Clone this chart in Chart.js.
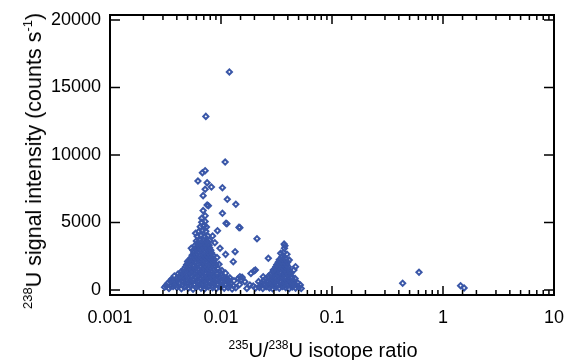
<!DOCTYPE html>
<html>
<head>
<meta charset="utf-8">
<script src="https://cdn.jsdelivr.net/npm/chart.js@4"></script>
<style>
  body { margin: 0; background: #fff; }
  #wrap { position: relative; width: 565px; height: 360px; font-family: "Liberation Sans", Arial, sans-serif; color: #000; }
  canvas { position: absolute; left: 0; top: 0; }
  .title { position: absolute; white-space: nowrap; line-height: 20px; }
  #ytitle { font-size: 21.5px; left: 31px; top: 161px; transform: translate(-50%, -50%) rotate(-90deg); }
  #ytitle span { font-size: 13px; vertical-align: 9px; }
  #xtitle { font-size: 20px; left: 323px; top: 335px; transform: translateX(-50%); }
  #xtitle span { font-size: 12px; vertical-align: 8px; }
</style>
</head>
<body>
<div id="wrap">
  <canvas id="chart" width="565" height="360"></canvas>
  <div class="title" id="ytitle"><span>238</span>U signal intensity (counts s<span>-1</span>)</div>
  <div class="title" id="xtitle"><span>235</span>U/<span>238</span>U isotope ratio</div>
</div>
<script>
// --- DATA ---
// main cloud around 235U/238U ~ 0.007
const mainRatio = [
  0.0031,0.0034,0.0037,0.0040,0.0044,0.0047,0.0051,0.0056,0.0060,0.0066,0.0071,0.0077,0.0084,0.0091,0.0099,0.0107,0.0116,0.0126,0.0136,
  0.0032,0.0035,0.0038,0.0041,0.0045,0.0049,0.0053,0.0057,0.0062,0.0067,0.0072,0.0078,0.0085,0.0093,0.0101,0.0110,0.0119,0.0130,
  0.0033,0.0036,0.0039,0.0042,0.0046,0.0050,0.0054,0.0058,0.0063,0.0068,0.0074,0.0080,0.0087,0.0094,0.0102,0.0111,0.0121,
  0.0035,0.0038,0.0041,0.0045,0.0048,0.0052,0.0057,0.0062,0.0067,0.0073,0.0079,0.0085,0.0092,0.0100,0.0109,0.0118,
  0.0036,0.0040,0.0043,0.0047,0.0051,0.0055,0.0060,0.0065,0.0070,0.0076,0.0082,0.0089,0.0097,0.0105,0.0114,
  0.0038,0.0042,0.0046,0.0050,0.0054,0.0059,0.0064,0.0069,0.0075,0.0081,0.0088,0.0096,0.0104,
  0.0041,0.0045,0.0049,0.0053,0.0057,0.0062,0.0067,0.0072,0.0078,0.0085,0.0092,0.0100,
  0.0044,0.0048,0.0052,0.0056,0.0060,0.0065,0.0070,0.0076,0.0082,0.0089,0.0097,
  0.0046,0.0050,0.0054,0.0058,0.0063,0.0068,0.0073,0.0079,0.0086,0.0094,
  0.0048,0.0052,0.0056,0.0060,0.0065,0.0070,0.0075,0.0081,0.0088,
  0.0049,0.0053,0.0057,0.0062,0.0067,0.0072,0.0078,0.0084,0.0090,
  0.0051,0.0055,0.0059,0.0064,0.0069,0.0074,0.0080,0.0086,
  0.0052,0.0056,0.0061,0.0066,0.0071,0.0076,0.0082,0.0087,
  0.0054,0.0058,0.0062,0.0067,0.0072,0.0078,0.0083,
  0.0055,0.0059,0.0064,0.0069,0.0074,0.0080,0.0085,
  0.0057,0.0062,0.0067,0.0072,0.0077,0.0082,
  0.0056,0.0061,0.0066,0.0071,0.0076,0.0081,
  0.0059,0.0064,0.0069,0.0074,0.0079,
  0.0058,0.0063,0.0068,0.0073,0.0078,
  0.0061,0.0066,0.0071,0.0076,
  0.0060,0.0065,0.0070,0.0075,0.0079,
  0.0061,0.0066,0.0071,0.0076,
  0.0063,0.0068,0.0073,
  0.0065,0.0070,0.0074,
  0.0067,0.0072
];
const mainCounts = [
  200,120,260,180,90,230,150,60,210,140,80,250,170,110,220,130,190,70,160,
  340,300,370,310,350,290,330,380,320,360,300,340,310,370,290,350,320,300,
  480,560,430,520,600,460,540,410,580,500,450,620,530,470,560,420,510,
  690,650,720,670,700,640,730,680,660,710,690,650,720,670,700,660,
  820,880,790,900,840,760,910,850,800,870,930,810,860,780,830,
  1040,1010,1060,990,1050,1020,1070,1000,1040,1060,1010,1030,990,
  1180,1250,1140,1220,1290,1160,1230,1190,1270,1130,1210,1170,
  1370,1400,1350,1420,1380,1360,1410,1390,1350,1400,1370,
  1520,1580,1490,1600,1540,1510,1620,1560,1500,1570,
  1720,1690,1750,1710,1740,1700,1730,1680,1720,
  1880,1940,1860,1920,1960,1870,1930,1890,1910,
  2060,2090,2050,2080,2100,2040,2070,2060,
  2230,2280,2210,2300,2240,2270,2200,2260,
  2410,2440,2400,2450,2420,2430,2410,
  2580,2630,2560,2640,2590,2610,2570,
  2760,2790,2750,2780,2770,2760,
  2930,2980,2960,2920,2990,2940,
  3110,3140,3120,3100,3130,
  3280,3330,3300,3260,3320,
  3460,3490,3470,3450,
  3630,3680,3660,3620,3670,
  3990,4030,3970,4010,
  4330,4380,4350,
  4690,4730,4670,
  5020,5080
];

// scattered points above and right of the main cloud
const sparseRatio = [
  0.0067,0.0072,0.0069,0.0075,0.0077,0.0069,0.0072,0.0082,0.0075,0.0062,0.0068,0.0072,0.0109,0.0073,0.0119,
  0.0103,0.0114,0.0136,0.0103,0.0111,0.0113,0.0145,0.0148,0.0093,0.0211,0.0134,0.0110,0.0129,0.0050,0.0054,
  0.0098,0.0059,0.0088,0.0084,0.0092,0.0096,0.0102,0.0110,0.0120,0.0131,0.0147,0.0155,0.0148,0.0164,0.0182,
  0.0171,0.0198,0.0204,0.0186,0.0153,0.0143,0.0195,0.0205,0.0036,0.0032,0.0046,0.0043
];
const sparseCounts = [
  5310,5500,5880,6300,6240,6990,7460,7630,7950,8070,8690,8840,9480,12860,16150,
  7580,6720,6350,5680,4940,4900,4640,4620,4390,3800,2840,2640,2100,2120,3090,
  3090,4200,3500,4000,2400,1900,1450,1250,900,680,400,950,990,620,370,
  120,1410,1480,1230,740,860,300,150,740,300,1300,1050
];

// second cloud around 0.035
const sideRatio = [
  0.0222,0.0238,0.0255,0.0273,0.0292,0.0313,0.0335,0.0358,0.0383,0.0410,0.0439,0.0470,0.0505,
  0.0228,0.0244,0.0262,0.0280,0.0300,0.0321,0.0344,0.0368,0.0394,0.0421,0.0450,0.0482,
  0.0232,0.0249,0.0267,0.0286,0.0306,0.0328,0.0351,0.0376,0.0402,0.0430,0.0460,0.0490,
  0.0242,0.0260,0.0279,0.0299,0.0320,0.0343,0.0367,0.0393,0.0421,0.0450,
  0.0252,0.0270,0.0290,0.0310,0.0332,0.0355,0.0380,0.0407,0.0436,0.0465,
  0.0268,0.0288,0.0309,0.0331,0.0355,0.0380,0.0406,0.0434,
  0.0282,0.0302,0.0323,0.0346,0.0370,0.0396,0.0424,
  0.0296,0.0317,0.0339,0.0363,0.0388,0.0414,
  0.0306,0.0328,0.0351,0.0375,0.0401,
  0.0312,0.0334,0.0357,0.0382,0.0405,
  0.0318,0.0340,0.0364,0.0390,
  0.0328,0.0351,0.0375,0.0398,
  0.0335,0.0358,0.0383,
  0.0345,0.0366,0.0373,0.0370,0.0393,0.0377,0.0355,
  0.0267,0.0412,0.0454,0.0469,0.0296,0.0519,0.0528,0.0240,0.0218
];
const sideCounts = [
  180,110,240,150,90,210,130,260,170,100,230,140,200,
  330,360,310,350,320,370,340,300,360,330,350,310,
  520,460,580,490,550,430,600,510,470,560,440,530,
  690,660,710,680,700,670,720,680,690,660,
  830,890,810,870,920,840,860,800,880,850,
  1030,1060,1010,1050,1040,1020,1060,1000,
  1190,1240,1170,1260,1210,1180,1230,
  1380,1400,1360,1410,1370,1390,
  1530,1590,1560,1520,1580,
  1720,1740,1700,1730,1710,
  1880,1930,1900,1870,
  2060,2090,2070,2050,
  2240,2290,2270,
  2720,2760,3090,3400,2650,3280,2480,
  2350,2220,1480,1730,1480,370,120,990,620
];

// far right points
const farRatio = [0.433, 0.608, 1.44, 1.55];
const farCounts = [500, 1310, 320, 150];

const yTicks = [0, 5000, 10000, 15000, 20000];

// --- BUILD POINTS ---
function toPoints(xs, ys) {
  return xs.map((v, i) => ({ x: v, y: ys[i] }));
}
const allPoints = [].concat(
  toPoints(mainRatio, mainCounts),
  toPoints(sparseRatio, sparseCounts),
  toPoints(sideRatio, sideCounts),
  toPoints(farRatio, farCounts)
);

function isDecade(v) {
  const lg = Math.log10(v);
  return Math.abs(lg - Math.round(lg)) < 1e-6;
}

// --- FRAME + INWARD TICKS ---
const frameTicks = {
  id: 'frameTicks',
  afterDraw(chart) {
    const { ctx, chartArea: a, scales: { x, y } } = chart;
    ctx.save();
    ctx.strokeStyle = '#000';
    ctx.lineWidth = 1.5;
    ctx.beginPath();
    x.ticks.forEach(t => {
      const px = x.getPixelForValue(t.value);
      const len = isDecade(t.value) ? 9 : 5;
      ctx.moveTo(px, a.bottom); ctx.lineTo(px, a.bottom - len);
      ctx.moveTo(px, a.top); ctx.lineTo(px, a.top + len);
    });
    y.ticks.forEach(t => {
      const py = y.getPixelForValue(t.value);
      ctx.moveTo(a.left, py); ctx.lineTo(a.left + 10, py);
      ctx.moveTo(a.right, py); ctx.lineTo(a.right - 10, py);
    });
    ctx.stroke();
    ctx.lineWidth = 2;
    ctx.strokeRect(a.left, a.top, a.right - a.left, a.bottom - a.top);
    ctx.restore();
  }
};

const tickFont = { family: '"Liberation Sans", Arial, sans-serif', size: 18 };

// --- CHART ---
new Chart(document.getElementById('chart'), {
  type: 'scatter',
  data: {
    datasets: [{
      data: allPoints,
      pointStyle: 'rectRot',
      pointRadius: 2.6,
      pointBorderWidth: 2,
      borderColor: '#3a57a8',
      backgroundColor: 'rgba(0,0,0,0)'
    }]
  },
  options: {
    responsive: false,
    animation: false,
    layout: { padding: { top: 15, right: 11, left: 0, bottom: 0 } },
    plugins: { legend: { display: false }, tooltip: { enabled: false } },
    scales: {
      x: {
        type: 'logarithmic',
        min: 0.001,
        max: 10,
        grid: { display: false, drawTicks: false },
        border: { display: false },
        afterFit: s => { s.height = 65; s.paddingLeft = 0; s.paddingRight = 0; },
        ticks: {
          autoSkip: false,
          maxRotation: 0,
          padding: 12,
          color: '#000',
          font: tickFont,
          callback: v => isDecade(v) ? String(Number(v.toPrecision(1))) : ''
        }
      },
      y: {
        min: -370,
        max: 20370,
        grid: { display: false, drawTicks: false },
        border: { display: false },
        afterFit: s => { s.width = 110; s.paddingTop = 0; s.paddingBottom = 0; },
        afterBuildTicks: s => { s.ticks = yTicks.map(v => ({ value: v })); },
        ticks: {
          padding: 9,
          color: '#000',
          font: tickFont,
          callback: v => String(v)
        }
      }
    }
  },
  plugins: [frameTicks]
});
</script>
</body>
</html>
